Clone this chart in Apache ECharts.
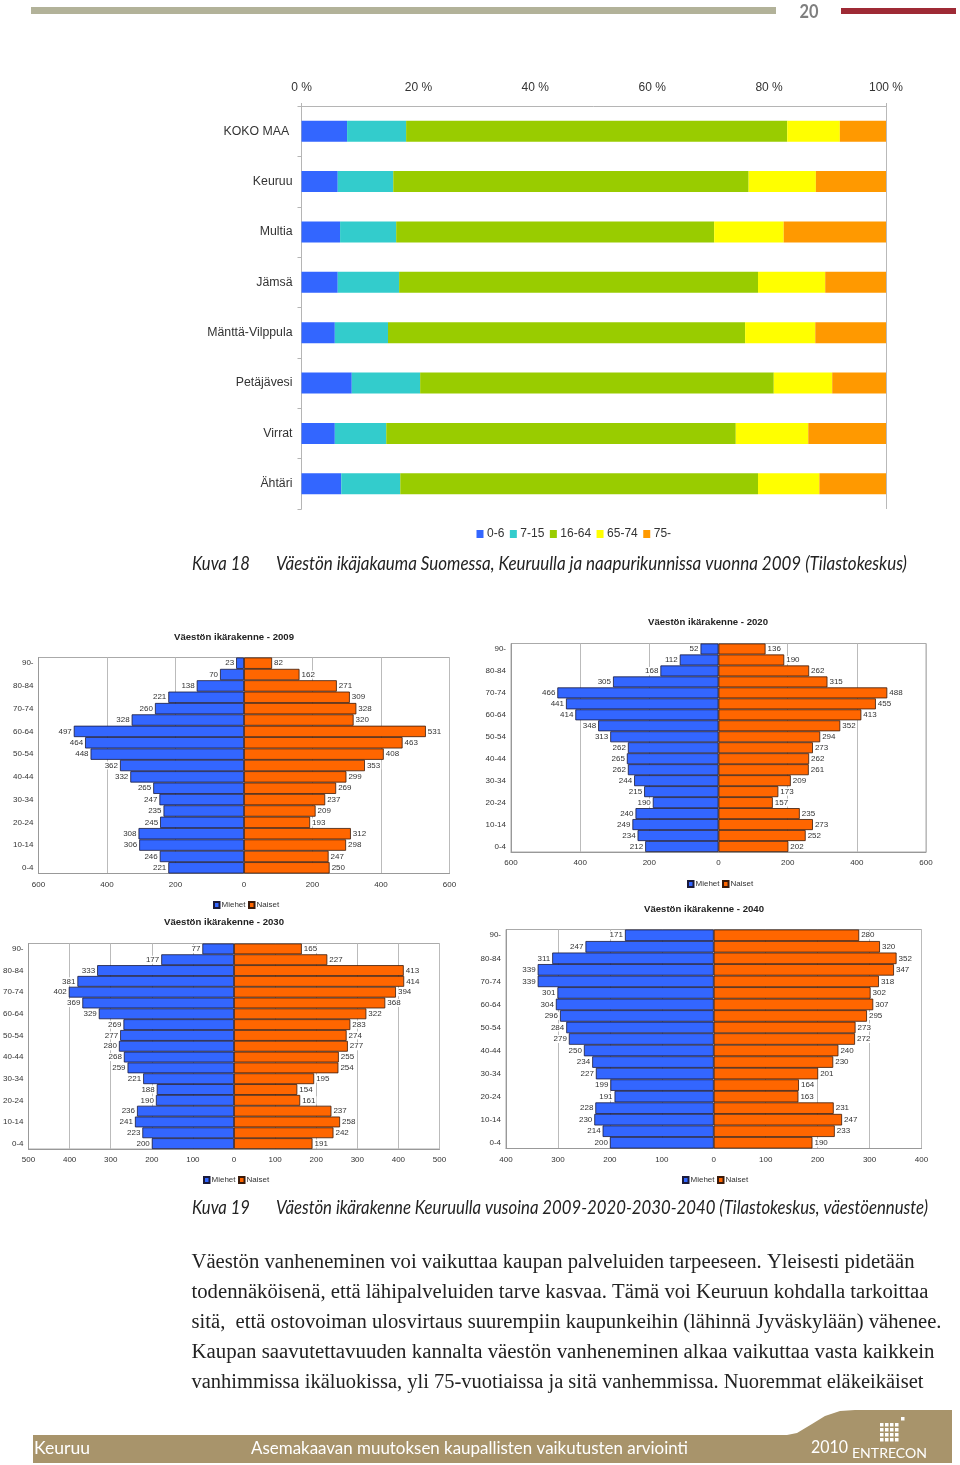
<!DOCTYPE html>
<html>
<head>
<meta charset="utf-8">
<title>Väestön ikärakenne</title>
<script src="https://cdn.jsdelivr.net/npm/echarts@6/dist/echarts.min.js"></script>
<style>
html,body{margin:0;padding:0;background:#fff}
#main{width:960px;height:1465px}
</style>
</head>
<body>
<div id="main"></div>
<script>
// ikäjakauma 2009, osuudet %
var places = ['KOKO MAA ', 'Keuruu', 'Multia', 'Jämsä', 'Mänttä-Vilppula', 'Petäjävesi', 'Virrat', 'Ähtäri'];
var shareNames = ['0-6', '7-15', '16-64', '65-74', '75-'];
var share06 = [7.8, 6.2, 6.6, 6.2, 5.7, 8.6, 5.7, 6.8];
var share715 = [10.1, 9.5, 9.6, 10.5, 9.1, 11.7, 8.8, 10.1];
var share1664 = [65.2, 60.8, 54.4, 61.4, 61.1, 60.5, 59.8, 61.2];
var share6574 = [9.0, 11.5, 11.9, 11.5, 12.0, 10.0, 12.4, 10.5];
var share75 = [7.9, 12.0, 17.5, 10.4, 12.1, 9.2, 13.3, 11.4];

// ikärakenne, ylin ryhmä ensin
var ages = ['90-', '85-89', '80-84', '75-79', '70-74', '65-69', '60-64', '55-59', '50-54', '45-49', '40-44', '35-39', '30-34', '25-29', '20-24', '15-19', '10-14', '5-9', '0-4'];
var men2009 = [23, 70, 138, 221, 260, 328, 497, 464, 448, 362, 332, 265, 247, 235, 245, 308, 306, 246, 221];
var women2009 = [82, 162, 271, 309, 328, 320, 531, 463, 408, 353, 299, 269, 237, 209, 193, 312, 298, 247, 250];
var men2020 = [52, 112, 168, 305, 466, 441, 414, 348, 313, 262, 265, 262, 244, 215, 190, 240, 249, 234, 212];
var women2020 = [136, 190, 262, 315, 488, 455, 413, 352, 294, 273, 262, 261, 209, 173, 157, 235, 273, 252, 202];
var men2030 = [77, 177, 333, 381, 402, 369, 329, 269, 277, 280, 268, 259, 221, 188, 190, 236, 241, 223, 200];
var women2030 = [165, 227, 413, 414, 394, 368, 322, 283, 274, 277, 255, 254, 195, 154, 161, 237, 258, 242, 191];
var men2040 = [171, 247, 311, 339, 339, 301, 304, 296, 284, 279, 250, 234, 227, 199, 191, 228, 230, 214, 200];
var women2040 = [280, 320, 352, 347, 318, 302, 307, 295, 273, 272, 240, 230, 201, 164, 163, 231, 247, 233, 190];

var paragraph = [
    'Väestön vanheneminen voi vaikuttaa kaupan palveluiden tarpeeseen. Yleisesti pidetään',
    'todennäköisenä, että lähipalveluiden tarve kasvaa. Tämä voi Keuruun kohdalla tarkoittaa',
    'sitä,  että ostovoiman ulosvirtaus suurempiin kaupunkeihin (lähinnä Jyväskylään) vähenee.',
    'Kaupan saavutettavuuden kannalta väestön vanheneminen alkaa vaikuttaa vasta kaikkein',
    'vanhimmissa ikäluokissa, yli 75-vuotiaissa ja sitä vanhemmissa. Nuoremmat eläkeikäiset'
];
var paragraphWidths = [723, 737, 750, 743, 732];

var SANS = '"Liberation Sans", Arial, sans-serif';
var shareColors = ['#3366ff', '#33cccc', '#99cc00', '#ffff00', '#ff9900'];
var shareData = [share06, share715, share1664, share6574, share75];

var option = {
    animation: false,
    backgroundColor: '#fff',
    textStyle: {fontFamily: SANS},
    title: [],
    legend: [],
    grid: [],
    xAxis: [],
    yAxis: [],
    series: [],
    graphic: []
};

// pinottu ikäjakauma
option.grid.push({left: 301.5, top: 106, width: 584.5, height: 403});
option.xAxis.push({
    type: 'value', gridIndex: 0, position: 'top', min: 0, max: 100, interval: 10,
    axisLine: {show: true, lineStyle: {color: '#b5b5b5'}},
    axisTick: {show: true, length: 3, customValues: [0, 100], lineStyle: {color: '#b5b5b5'}},
    splitLine: {show: true, lineStyle: {color: '#b9b9b9', width: 1}},
    axisLabel: {
        margin: 12, fontSize: 12, color: '#333', fontFamily: SANS,
        formatter: function (v) { return v % 20 == 0 ? v + ' %' : ''; }
    }
});
option.yAxis.push({
    type: 'category', gridIndex: 0, inverse: true, data: places,
    axisLine: {show: true, lineStyle: {color: '#b5b5b5'}},
    axisTick: {show: true, length: 4, lineStyle: {color: '#b5b5b5'}},
    axisLabel: {margin: 9, fontSize: 12.3, color: '#333', fontFamily: SANS}
});
for (var i = 0; i < shareNames.length; i++) {
    option.series.push({
        name: shareNames[i], type: 'bar', stack: 'share', xAxisIndex: 0, yAxisIndex: 0,
        barWidth: 21, itemStyle: {color: shareColors[i]}, data: shareData[i]
    });
}
option.legend.push({
    data: shareNames, left: 476.5, top: 528, padding: 0, itemWidth: 7, itemHeight: 8, itemGap: 5.5,
    selectedMode: false, icon: 'rect',
    textStyle: {fontSize: 12, color: '#333', fontFamily: SANS, padding: [0, 0, 0, -1.5]}
});

// väestöpyramidit
var pyramids = [
    {year: 2009, men: men2009, women: women2009, limit: 600, step: 200, box: [38.5, 657.5, 411, 216], titleAt: [234, 632.5], legendAt: [213, 901]},
    {year: 2020, men: men2020, women: women2020, limit: 600, step: 200, box: [511, 643.5, 415, 208.5], titleAt: [708, 617.5], legendAt: [687, 880]},
    {year: 2030, men: men2030, women: women2030, limit: 500, step: 100, box: [28.5, 943.5, 411, 205.5], titleAt: [224, 917.5], legendAt: [203, 1176]},
    {year: 2040, men: men2040, women: women2040, limit: 400, step: 100, box: [506, 929.5, 415.5, 219], titleAt: [704, 904], legendAt: [682, 1176]}
];

function addPyramid(p, n) {
    option.title.push({
        text: 'Väestön ikärakenne - ' + p.year, left: p.titleAt[0], top: p.titleAt[1], textAlign: 'center', padding: 0,
        textStyle: {fontSize: 9.6, fontWeight: 'bold', color: '#222', fontFamily: SANS}
    });
    option.grid.push({
        left: p.box[0], top: p.box[1], width: p.box[2], height: p.box[3],
        show: true, borderColor: '#aaa', borderWidth: 1, backgroundColor: '#fff'
    });
    option.xAxis.push({
        type: 'value', gridIndex: n, position: 'bottom', min: -p.limit, max: p.limit, interval: p.step,
        axisLine: {show: true, onZero: false, lineStyle: {color: '#999'}},
        axisTick: {show: false},
        splitLine: {show: true, lineStyle: {color: '#bbb'}},
        axisLabel: {
            margin: 7, fontSize: 8, color: '#333', fontFamily: SANS, hideOverlap: false,
            formatter: function (v) { return Math.abs(v); }
        }
    });
    option.yAxis.push({
        type: 'category', gridIndex: n, inverse: true, data: ages,
        axisLine: {show: true, onZero: false, lineStyle: {color: '#999'}},
        axisTick: {show: false},
        axisLabel: {margin: 5, interval: 1, fontSize: 8, color: '#333', fontFamily: SANS}
    });
    var labelBase = {
        show: true, fontSize: 8, color: '#333', fontFamily: SANS, distance: 1,
        backgroundColor: '#fff', padding: [0, 1, 0, 1],
        formatter: function (d) { return Math.abs(d.value); }
    };
    option.series.push({
        name: 'Miehet', type: 'bar', xAxisIndex: n, yAxisIndex: n,
        barCategoryGap: 0, barGap: '-100%',
        itemStyle: {color: '#3366ff', borderColor: '#1a1a3a', borderWidth: 0.8},
        label: Object.assign({position: 'left'}, labelBase),
        data: p.men.map(function (v) { return -v; })
    });
    option.series.push({
        name: 'Naiset', type: 'bar', xAxisIndex: n, yAxisIndex: n,
        barCategoryGap: 0, barGap: '-100%',
        itemStyle: {color: '#ff6600', borderColor: '#3a1a0a', borderWidth: 0.8},
        label: Object.assign({position: 'right'}, labelBase),
        data: p.women
    });
    option.legend.push({
        data: ['Miehet', 'Naiset'], left: p.legendAt[0], top: p.legendAt[1], padding: 0,
        itemWidth: 5.5, itemHeight: 6, itemGap: 2.5, selectedMode: false, icon: 'rect',
        textStyle: {fontSize: 8, color: '#333', fontFamily: SANS, padding: [0, 0, 0, -3]}
    });
}
pyramids.forEach(function (p, i) { addPyramid(p, i + 1); });

// sivun kehys ja tekstit
var measure = document.createElement('canvas').getContext('2d');
function rect(x, y, w, h, color) {
    return {type: 'rect', shape: {x: x, y: y, width: w, height: h}, style: {fill: color}, silent: true};
}
function text(s, x, y, font, fill, width) {
    // width = leveys kuvassa, skaalataan vaakasuunnassa
    measure.font = font;
    var sx = width ? width / measure.measureText(s).width : 1;
    return {
        type: 'text', x: x, y: y, scaleX: sx, silent: true,
        style: {text: s, font: font, fill: fill, textVerticalAlign: 'middle'}
    };
}
var capFont = 'italic 19px Lato, sans-serif';
var footFont = '18px Lato, sans-serif';
var g = option.graphic;
g.push(rect(31, 7, 745, 7, '#b2b299'));
g.push(rect(841, 8, 115, 6, '#9e2a35'));
g.push(text('20', 799.5, 12, 'bold 18px Lato, sans-serif', '#7f7f7f', 19));
g.push(text('Kuva 18', 192, 564, capFont, '#222', 58));
g.push(text('Väestön ikäjakauma Suomessa, Keuruulla ja naapurikunnissa vuonna 2009 (Tilastokeskus)', 276, 564, capFont, '#222', 631));
g.push(text('Kuva 19', 192, 1208, capFont, '#222', 58));
g.push(text('Väestön ikärakenne Keuruulla vusoina 2009-2020-2030-2040 (Tilastokeskus, väestöennuste)', 276, 1208, capFont, '#222', 652));
paragraph.forEach(function (line, i) {
    g.push(text(line, 191.5, 1263 + i * 30, '20.5px "Liberation Serif", serif', '#222', paragraphWidths[i]));
});
g.push({
    type: 'polygon', silent: true,
    shape: {points: [[33, 1435], [787, 1435], [797, 1433], [812, 1424], [825, 1416], [840, 1411], [855, 1410], [952, 1410], [952, 1463], [33, 1463]]},
    style: {fill: '#a8946b'}
});
g.push(text('Keuruu', 34, 1448, footFont, '#fff', 56));
g.push(text('Asemakaavan muutoksen kaupallisten vaikutusten arviointi', 251, 1448, footFont, '#fff', 437));
g.push(text('2010', 811, 1447, footFont, '#fff', 37));
g.push(text('ENTRECON', 852, 1453, '14px Lato, sans-serif', '#fff', 75));
for (var r = 0; r < 4; r++) {
    for (var c = 0; c < 4; c++) {
        g.push(rect(880 + c * 5, 1423 + r * 5, 3.5, 3.5, '#fff'));
    }
}
g.push(rect(901, 1417, 3.5, 3.5, '#fff'));

var myChart = echarts.init(document.getElementById('main'));
myChart.setOption(option);
</script>
</body>
</html>
